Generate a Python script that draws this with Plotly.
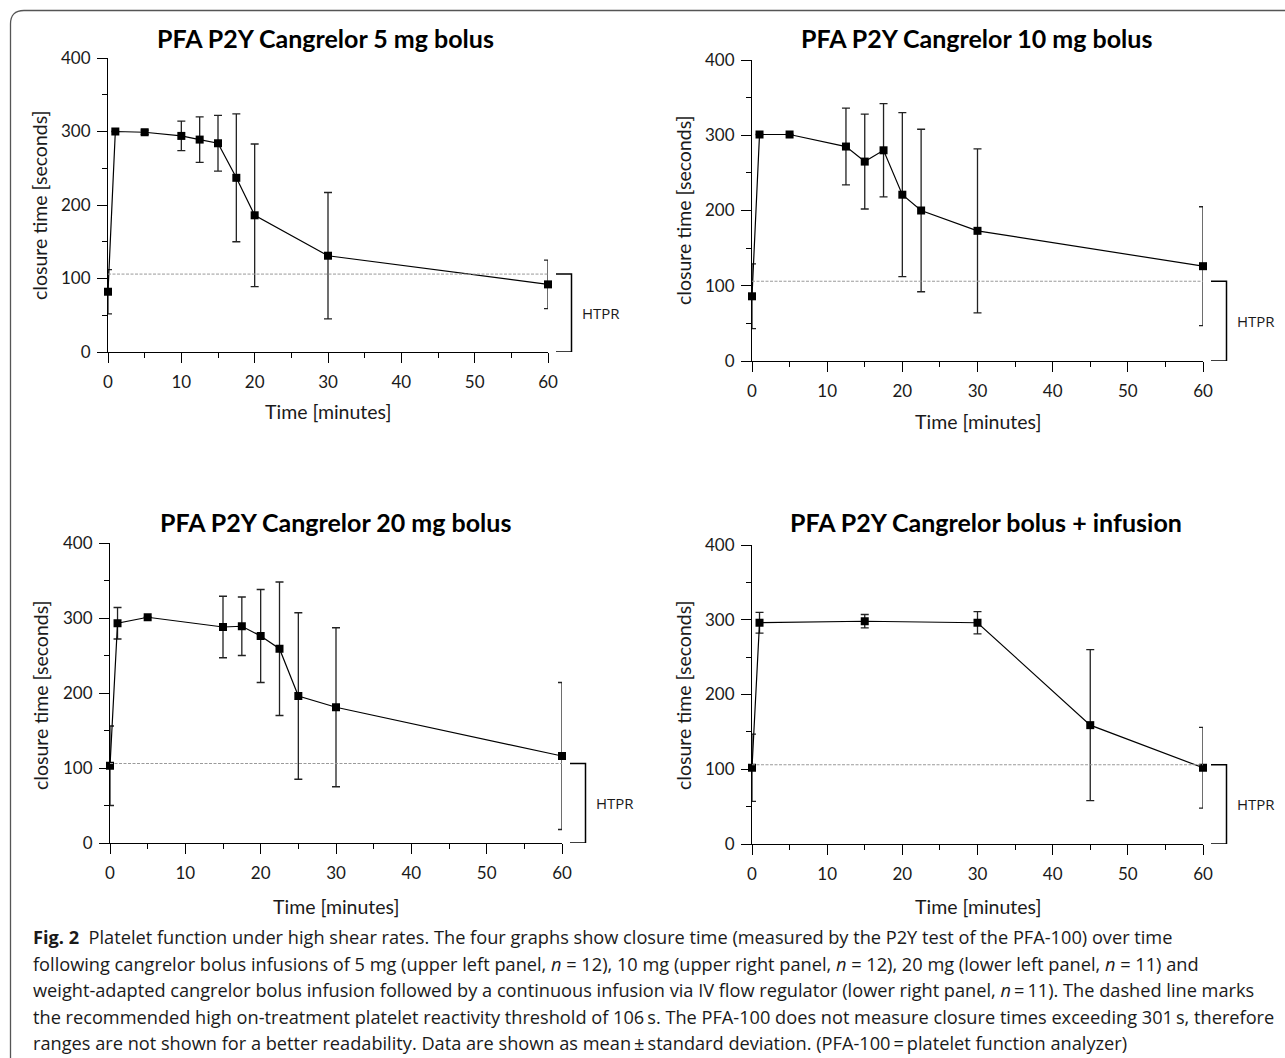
import plotly.graph_objects as go

W, H = 1285, 1058

# ---------------- data ----------------
titles = [
    "PFA P2Y Cangrelor 5 mg bolus",
    "PFA P2Y Cangrelor 10 mg bolus",
    "PFA P2Y Cangrelor 20 mg bolus",
    "PFA P2Y Cangrelor bolus + infusion",
]

time_5mg = [0, 1, 5, 10, 12.5, 15, 17.5, 20, 30, 60]
mean_5mg = [82, 300, 299, 294, 289, 284, 237, 186, 131, 92]
sd_5mg = [30, 0, 3, 20, 31, 38, 87, 97, 86, 33]

time_10mg = [0, 1, 5, 12.5, 15, 17.5, 20, 22.5, 30, 60]
mean_10mg = [86, 301, 301, 285, 265, 280, 221, 200, 173, 126]
sd_10mg = [43, 0, 0, 51, 63, 62, 109, 108, 109, 79]

time_20mg = [0, 1, 5, 15, 17.5, 20, 22.5, 25, 30, 60]
mean_20mg = [103, 293, 301, 288, 289, 276, 259, 196, 181, 116]
sd_20mg = [53, 21, 0, 41, 39, 62, 89, 111, 106, 98]

time_inf = [0, 1, 15, 30, 45, 60]
mean_inf = [102, 296, 298, 296, 159, 102]
sd_inf = [45, 14, 9, 15, 101, 54]

htpr_threshold = 106
x_ticks = [0, 10, 20, 30, 40, 50, 60]
y_ticks = [0, 100, 200, 300, 400]
x_title = "Time [minutes]"
y_title = "closure time [seconds]"
bracket_label = "HTPR"

caption_lines = [
    "<b>Fig. 2</b>  Platelet function under high shear rates. The four graphs show closure time (measured by the P2Y test of the PFA-100) over time",
    "following cangrelor bolus infusions of 5 mg (upper left panel, <i>n</i> = 12), 10 mg (upper right panel, <i>n</i> = 12), 20 mg (lower left panel, <i>n</i> = 11) and",
    "weight-adapted cangrelor bolus infusion followed by a continuous infusion via IV flow regulator (lower right panel, <i>n</i>\u2009=\u200911). The dashed line marks",
    "the recommended high on-treatment platelet reactivity threshold of 106\u2009s. The PFA-100 does not measure closure times exceeding 301\u2009s, therefore",
    "ranges are not shown for a better readability. Data are shown as mean\u2009\u00b1\u2009standard deviation. (PFA-100\u2009=\u2009platelet function analyzer)",
]

series = [
    (time_5mg, mean_5mg, sd_5mg),
    (time_10mg, mean_10mg, sd_10mg),
    (time_20mg, mean_20mg, sd_20mg),
    (time_inf, mean_inf, sd_inf),
]

# ---------------- layout geometry (pixels) ----------------
# (x_left, x_right, y_top(400), y_bottom(0))
panels_px = [
    (108, 548, 58, 352),
    (752, 1203, 60, 361),
    (110, 562, 543, 843),
    (752, 1203, 545, 844),
]
title_pos = [(325, 38), (976, 38), (335, 522), (986, 522)]
xtitle_pos = [(328, 411), (978, 421), (336, 906), (978, 906)]
ytitle_pos = [(40, 205), (683, 210), (40, 695), (683, 695)]
caption_x, caption_y0, caption_dy = 31, 937, 26.5


def px(x):
    return x / W


def py(y):
    return 1 - y / H


FONT = "Lato, 'Open Sans', sans-serif"
CAPFONT = "'Open Sans', sans-serif"
fig = go.Figure()
layout = dict(
    width=W, height=H,
    margin=dict(l=0, r=0, t=0, b=0, pad=0, autoexpand=False),
    paper_bgcolor="white", plot_bgcolor="white", showlegend=False,
    font=dict(family=FONT, color="#1a1a1a", size=17),
)
shapes = []
annotations = []

for i, ((t, m, s), (xl, xr, yt, yb)) in enumerate(zip(series, panels_px)):
    k = "" if i == 0 else str(i + 1)
    xa, ya = "x" + k, "y" + k
    fig.add_trace(go.Scatter(
        x=t, y=m, xaxis=xa, yaxis=ya, mode="lines+markers",
        line=dict(color="black", width=1.2),
        marker=dict(symbol="square", size=8, color="black"),
        error_y=dict(type="data", array=s, visible=True, color="#222222",
                     thickness=1.3, width=4),
        cliponaxis=False,
    ))
    axis_common = dict(
        showline=True, linecolor="black", linewidth=1.2, showgrid=False,
        zeroline=False, ticks="outside", ticklen=10, tickwidth=1.2,
        tickcolor="black", fixedrange=True, automargin=False,
        tickfont=dict(family=FONT, size=17, color="#1a1a1a"),
    )
    layout["xaxis" + k] = dict(
        axis_common, domain=[px(xl), px(xr)], anchor=ya, range=[0, 60],
        tickvals=x_ticks, ticklabelstandoff=4,
        minor=dict(ticks="outside", ticklen=5, dtick=5, tick0=0,
                   tickcolor="black", tickwidth=1.2, showgrid=False),
    )
    layout["yaxis" + k] = dict(
        axis_common, domain=[py(yb), py(yt)], anchor=xa, range=[0, 400],
        tickvals=y_ticks, ticklabelstandoff=3,
        minor=dict(ticks="outside", ticklen=5, dtick=50, tick0=0,
                   tickcolor="black", tickwidth=1.2, showgrid=False),
    )
    # threshold dashed line
    shapes.append(dict(type="line", xref=xa, yref=ya, x0=0, x1=60,
                       y0=htpr_threshold, y1=htpr_threshold,
                       line=dict(color="#9a9a9a", width=1, dash="3px,1.5px")))
    # HTPR bracket
    bx0, bx1 = px(xr + 8), px(xr + 23.5)
    bracket_path = (f"M {bx0},{htpr_threshold} L {bx1},{htpr_threshold} "
                    f"L {bx1},0 L {bx0},0")
    shapes.append(dict(type="path", xref="paper", yref=ya, path=bracket_path,
                       line=dict(color="black", width=1.5)))
    annotations.append(dict(xref="paper", yref=ya, x=px(xr + 32),
                            y=htpr_threshold / 2, text=bracket_label,
                            showarrow=False, xanchor="left", yanchor="middle",
                            font=dict(family=CAPFONT, size=15,
                                      color="#1a1a1a")))
    # titles
    tx, ty = title_pos[i]
    annotations.append(dict(xref="paper", yref="paper", x=px(tx), y=py(ty),
                            text=f"<b>{titles[i]}</b>", showarrow=False,
                            xanchor="center", yanchor="middle",
                            font=dict(family=FONT, size=25, color="black")))
    ax_, ay_ = xtitle_pos[i]
    annotations.append(dict(xref="paper", yref="paper", x=px(ax_), y=py(ay_),
                            text=x_title, showarrow=False, xanchor="center",
                            yanchor="middle",
                            font=dict(family=FONT, size=19.5, color="#1a1a1a")))
    yx_, yy_ = ytitle_pos[i]
    annotations.append(dict(xref="paper", yref="paper", x=px(yx_), y=py(yy_),
                            text=y_title, showarrow=False, textangle=-90,
                            xanchor="center", yanchor="middle",
                            font=dict(family=FONT, size=19.5, color="#1a1a1a")))

# caption (one annotation per line for exact line spacing)
for j, line in enumerate(caption_lines):
    annotations.append(dict(xref="paper", yref="paper", x=px(caption_x),
                            y=py(caption_y0 + j * caption_dy), text=line,
                            showarrow=False, xanchor="left", yanchor="middle",
                            align="left",
                            font=dict(family=CAPFONT, size=18.2, color="#1a1a1a")))

# frame with rounded top-left corner
frame = (f"M {px(10.5)},{py(1058)} L {px(10.5)},{py(24)} "
         f"Q {px(10.5)},{py(10.5)} {px(24)},{py(10.5)} L {px(1285)},{py(10.5)}")
shapes.append(dict(type="path", xref="paper", yref="paper", path=frame,
                   line=dict(color="#555555", width=1.3)))

layout["shapes"] = shapes
layout["annotations"] = annotations
fig.update_layout(**layout)
fig.write_html(
    "out.html",
    config={"displayModeBar": False},
    post_script="document.documentElement.style.margin='0';"
                "document.body.style.margin='0';"
                "document.documentElement.style.overflow='hidden';",
)
